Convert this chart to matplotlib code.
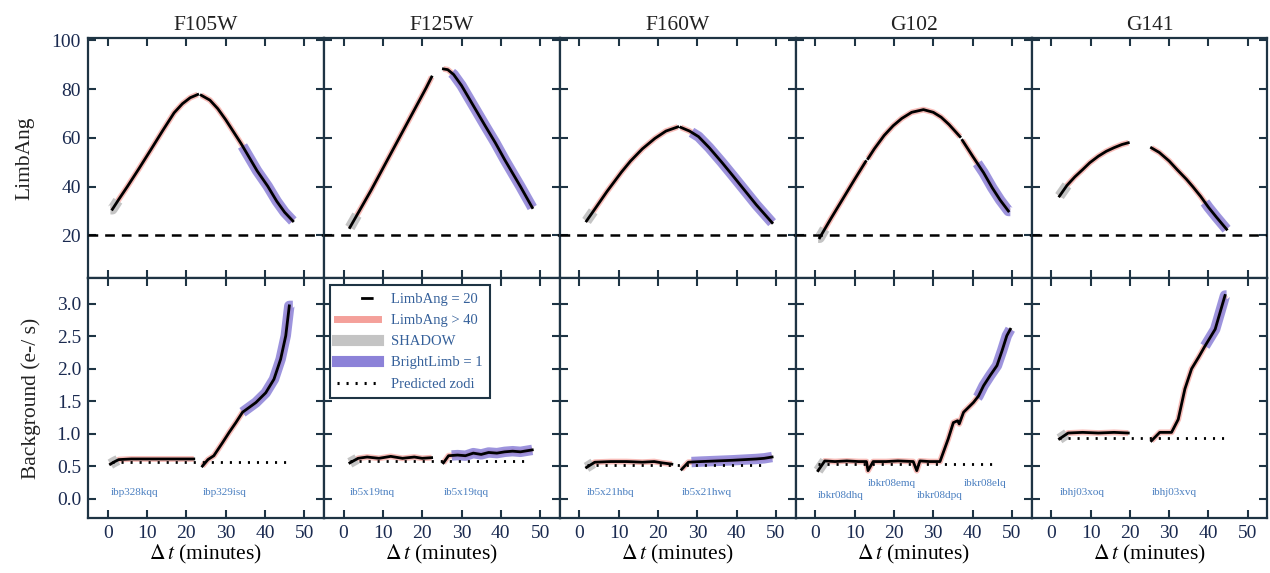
import numpy as np
import matplotlib
matplotlib.use('Agg')
import matplotlib.pyplot as plt
from matplotlib.lines import Line2D

plt.rcParams['font.family'] = ['Liberation Serif', 'DejaVu Serif']
plt.rcParams['mathtext.fontset'] = 'stix'
plt.rcParams['lines.scale_dashes'] = False

filters = ['F105W', 'F125W', 'F160W', 'G102', 'G141']

# ---------------- LimbAng (top row) ----------------
F105W_limb_t = [1.2, 2.8, 5, 8, 11, 14, 16.9, 19, 21, 22.9, np.nan, 23.8, 26, 28, 30, 32, 34, 36, 38, 40.7, 43, 45, 47.1]
F105W_limb_v = [30.7, 34.7, 40, 47.5, 55.2, 63, 70.3, 74, 76.5, 77.8, np.nan, 77.5, 75.5, 72, 67.5, 62.5, 57.5, 52, 46.5, 40.2, 34, 29.5, 25.9]
F125W_limb_t = [1.6, 4, 7, 10, 13, 16, 19, 21, 22.4, np.nan, 25.4, 26.5, 28, 30, 32, 34, 36, 38.6, 41, 43, 45, 48]
F125W_limb_v = [23.2, 30, 38.5, 47.5, 56.5, 65.5, 74.5, 80.5, 85, np.nan, 88.3, 88, 86, 81.5, 76, 70.5, 65, 58, 51, 45.5, 40, 31.4]
F160W_limb_t = [1.8, 4, 7, 10.7, 13, 16, 19.2, 22, 25, np.nan, 25.8, 28, 30.3, 33, 36.2, 39, 42, 45, 49]
F160W_limb_v = [25.9, 31, 38, 46, 50.5, 55.5, 59.8, 62.8, 64.5, np.nan, 64.3, 62.8, 60.5, 56, 50, 44.5, 38.5, 32.5, 25.2]
G102_limb_t = [1.1, 4, 7, 10, 12.8, np.nan, 13.4, 15, 17.5, 19.8, 22, 24.5, 27.5, 30, 32, 34, 36.8, np.nan, 37.4, 40, 42.8, 45, 47, 49.1]
G102_limb_v = [19, 27, 35, 43, 50.3, np.nan, 51.5, 55.5, 61, 65, 68, 70.5, 71.6, 70.5, 68.5, 65.5, 60.5, np.nan, 59, 52.5, 45.7, 39.5, 34.5, 30]
G141_limb_t = [2.1, 4, 6, 8, 9.8, 12, 14, 16, 18, 19.6, np.nan, 25.5, 27.5, 30, 32, 34.4, 36, 38, 40, 42, 44.6]
G141_limb_v = [36.1, 40.5, 44, 47, 49.8, 52.5, 54.5, 56, 57.3, 58, np.nan, 55.9, 54, 50.5, 47, 43, 40, 36, 31.5, 27.5, 22.5]

# ---------------- Background (bottom row) ----------------
F105W_bkg_t = [0.7, 1.5, 2.8, 6, 10, 14, 18, 21.9, np.nan, 24.1, 25.5, 27.0, 29.2, 30.9, 32.6, 34.3, 37.7, 40.2, 42.3, 44.0, 45.3, 46.2]
F105W_bkg_v = [0.53, 0.56, 0.6, 0.61, 0.61, 0.61, 0.61, 0.61, np.nan, 0.5, 0.6, 0.66, 0.86, 1.02, 1.17, 1.33, 1.48, 1.63, 1.84, 2.15, 2.51, 2.97]
F125W_bkg_t = [1.6, 3.7, 6, 9, 12, 15, 18, 20, 22.4, np.nan, 25.4, 26.7, 29, 31, 33, 35, 36.9, 39, 41, 43, 45, 48]
F125W_bkg_v = [0.55, 0.62, 0.64, 0.62, 0.65, 0.62, 0.64, 0.62, 0.63, np.nan, 0.55, 0.66, 0.67, 0.66, 0.7, 0.68, 0.71, 0.7, 0.72, 0.73, 0.72, 0.75]
F160W_bkg_t = [1.8, 3.9, 8, 12, 16, 19, 21, 23.5, np.nan, 26.0, 27.7, 31, 35, 39, 42, 45, 47, 49]
F160W_bkg_v = [0.48, 0.56, 0.57, 0.57, 0.56, 0.57, 0.55, 0.53, np.nan, 0.45, 0.56, 0.57, 0.58, 0.59, 0.6, 0.61, 0.62, 0.64]
G102_bkg_t = [0.7, 2.4, 5, 8, 11, 13.0, 13.4, 14.7, 18, 21, 24.9, 25.8, 26.6, 29, 31.7, 33.8, 35.1, 36.2, 36.6, 37.7, 40.2, 41.5, 42.8, 44.5, 46.2, 47.5, 48.7, 49.6]
G102_bkg_v = [0.43, 0.58, 0.57, 0.58, 0.57, 0.57, 0.43, 0.57, 0.57, 0.58, 0.57, 0.43, 0.58, 0.57, 0.57, 0.92, 1.17, 1.2, 1.15, 1.33, 1.48, 1.58, 1.74, 1.9, 2.05, 2.28, 2.51, 2.61]
G141_bkg_t = [2.1, 4.3, 8, 12, 16, 19.6, np.nan, 25.5, 27.6, 30.6, 32.3, 34.0, 35.7, 37.5, 39.1, 41.7, 44.2]
G141_bkg_v = [0.92, 1.01, 1.02, 1.01, 1.02, 1.01, np.nan, 0.89, 1.02, 1.02, 1.22, 1.69, 2.0, 2.18, 2.35, 2.61, 3.13]

# flag intervals (minutes)
shadow_start = [0.7, 1.6, 1.8, 0.7, 2.1]
shadow_end = [2.6, 3.4, 3.5, 2.4, 4.0]
bright_start = [34.3, 27.5, 28.5, 41.2, 39.1]
bright_end = [47.1, 48.0, 49.0, 49.6, 44.6]

# predicted zodi
zodi_start = [1.0, 1.6, 1.8, 0.8, 2.1]
zodi_end = [45.3, 46.0, 46.5, 46.5, 44.2]
zodi_level = [0.57, 0.58, 0.52, 0.53, 0.93]

# exposure labels
F105W_exp_names = ['ibp328kqq', 'ibp329isq']
F105W_exp_t = [0.7, 24.1]
F105W_exp_y = [0.1, 0.1]
F125W_exp_names = ['ib5x19tnq', 'ib5x19tqq']
F125W_exp_t = [1.6, 25.4]
F125W_exp_y = [0.1, 0.1]
F160W_exp_names = ['ib5x21hbq', 'ib5x21hwq']
F160W_exp_t = [1.8, 26.0]
F160W_exp_y = [0.1, 0.1]
G102_exp_names = ['ibkr08dhq', 'ibkr08emq', 'ibkr08dpq', 'ibkr08elq']
G102_exp_t = [0.7, 13.4, 25.8, 37.7]
G102_exp_y = [0.04, 0.23, 0.04, 0.23]
G141_exp_names = ['ibhj03xoq', 'ibhj03xvq']
G141_exp_t = [2.1, 25.5]
G141_exp_y = [0.1, 0.1]

limb_t = [F105W_limb_t, F125W_limb_t, F160W_limb_t, G102_limb_t, G141_limb_t]
limb_v = [F105W_limb_v, F125W_limb_v, F160W_limb_v, G102_limb_v, G141_limb_v]
bkg_t = [F105W_bkg_t, F125W_bkg_t, F160W_bkg_t, G102_bkg_t, G141_bkg_t]
bkg_v = [F105W_bkg_v, F125W_bkg_v, F160W_bkg_v, G102_bkg_v, G141_bkg_v]
exp_names = [F105W_exp_names, F125W_exp_names, F160W_exp_names, G102_exp_names, G141_exp_names]
exp_t = [F105W_exp_t, F125W_exp_t, F160W_exp_t, G102_exp_t, G141_exp_t]
exp_y = [F105W_exp_y, F125W_exp_y, F160W_exp_y, G102_exp_y, G141_exp_y]

RED = '#f4a09a'
GRAY = '#c4c4c4'
BLUE = '#8c82d8'
SPINE = '#1e3444'
TICKC = '#1a2a50'
LBLC = '#4a7fc0'


def overlay(ax, t, v, lo, hi, **kw):
    t = np.asarray(t, float)
    v = np.asarray(v, float)
    ok = np.isfinite(t) & np.isfinite(v)
    tt, vv = t[ok], v[ok]
    inside = (tt > lo) & (tt < hi)
    xs = np.concatenate([[lo], tt[inside], [hi]])
    ys = np.concatenate([[np.interp(lo, tt, vv)], vv[inside], [np.interp(hi, tt, vv)]])
    ax.plot(xs, ys, solid_capstyle='butt', **kw)


def draw(ax, t, v, i):
    ax.plot(t, v, color=RED, lw=4.2, alpha=0.7, zorder=1, solid_capstyle='butt')
    overlay(ax, t, v, shadow_start[i], shadow_end[i], color=GRAY, lw=7.5, zorder=2)
    overlay(ax, t, v, bright_start[i], bright_end[i], color=BLUE, lw=7.5, alpha=0.85, zorder=2)
    ax.plot(t, v, color='black', lw=2.0, zorder=3)


fig, axes = plt.subplots(2, 5, figsize=(12.7, 5.73), dpi=100, sharex=True)
fig.subplots_adjust(left=0.0693, right=0.998, top=0.9337, bottom=0.096, wspace=0, hspace=0)

for i, f in enumerate(filters):
    axt = axes[0, i]
    axb = axes[1, i]
    draw(axt, limb_t[i], limb_v[i], i)
    axt.axhline(20, color='black', lw=1.8, ls=(0, (7, 5)), zorder=3)
    axt.set_ylim(2.5, 101)
    axt.set_yticks([20, 40, 60, 80, 100])
    axt.set_title(f, fontsize=15.5, color='#222222', pad=6)

    draw(axb, bkg_t[i], bkg_v[i], i)
    axb.plot([zodi_start[i], zodi_end[i]], [zodi_level[i]] * 2, color='black', lw=2,
             ls=(0, (1.5, 5)), zorder=4)
    axb.set_ylim(-0.3, 3.4)
    axb.set_yticks([0.0, 0.5, 1.0, 1.5, 2.0, 2.5, 3.0])
    for name, tx, ty in zip(exp_names[i], exp_t[i], exp_y[i]):
        axb.text(tx, ty, name, fontsize=8, color=LBLC, ha='left', va='center')
    axb.set_xlabel(r'$\Delta\,t$ (minutes)', fontsize=15.5, labelpad=1)

    for ax in (axt, axb):
        ax.set_xlim(-5, 55)
        ax.set_xticks([0, 10, 20, 30, 40, 50])
        ax.tick_params(direction='in', top=True, right=True, length=6, width=1.5,
                       labelsize=14, colors=SPINE, labelcolor=TICKC, pad=5)
        for s in ax.spines.values():
            s.set_color(SPINE)
            s.set_linewidth(1.6)
        if i > 0:
            ax.tick_params(labelleft=False)

axes[0, 0].set_ylabel('LimbAng', fontsize=15.5, color='#222222')
axes[1, 0].set_ylabel('Background (e-/ s)', fontsize=15.5, color='#222222')
axes[0, 0].yaxis.set_label_coords(-0.225, 0.5)
axes[1, 0].yaxis.set_label_coords(-0.20, 0.5)
axes[1, 0].set_yticklabels(['0.0', '0.5', '1.0', '1.5', '2.0', '2.5', '3.0'])

handles = [
    Line2D([], [], color='black', lw=2, ls=(22, (9, 30))),
    Line2D([], [], color=RED, lw=5),
    Line2D([], [], color=GRAY, lw=8),
    Line2D([], [], color=BLUE, lw=8),
    Line2D([], [], color='black', lw=2.2, ls=(0, (1.5, 5))),
]
labels = ['LimbAng = 20', 'LimbAng > 40', 'SHADOW', 'BrightLimb = 1', 'Predicted zodi']
leg = axes[1, 1].legend(handles, labels, loc='upper left', bbox_to_anchor=(0.025, 0.97),
                        fontsize=10.5, handlelength=2.8, labelspacing=0.55, borderpad=0.5,
                        handletextpad=0.9, fancybox=False, framealpha=1, edgecolor=SPINE,
                        borderaxespad=0)
leg.get_frame().set_linewidth(1.5)
for txt in leg.get_texts():
    txt.set_color('#35609a')

fig.savefig('out.png', dpi=100)
